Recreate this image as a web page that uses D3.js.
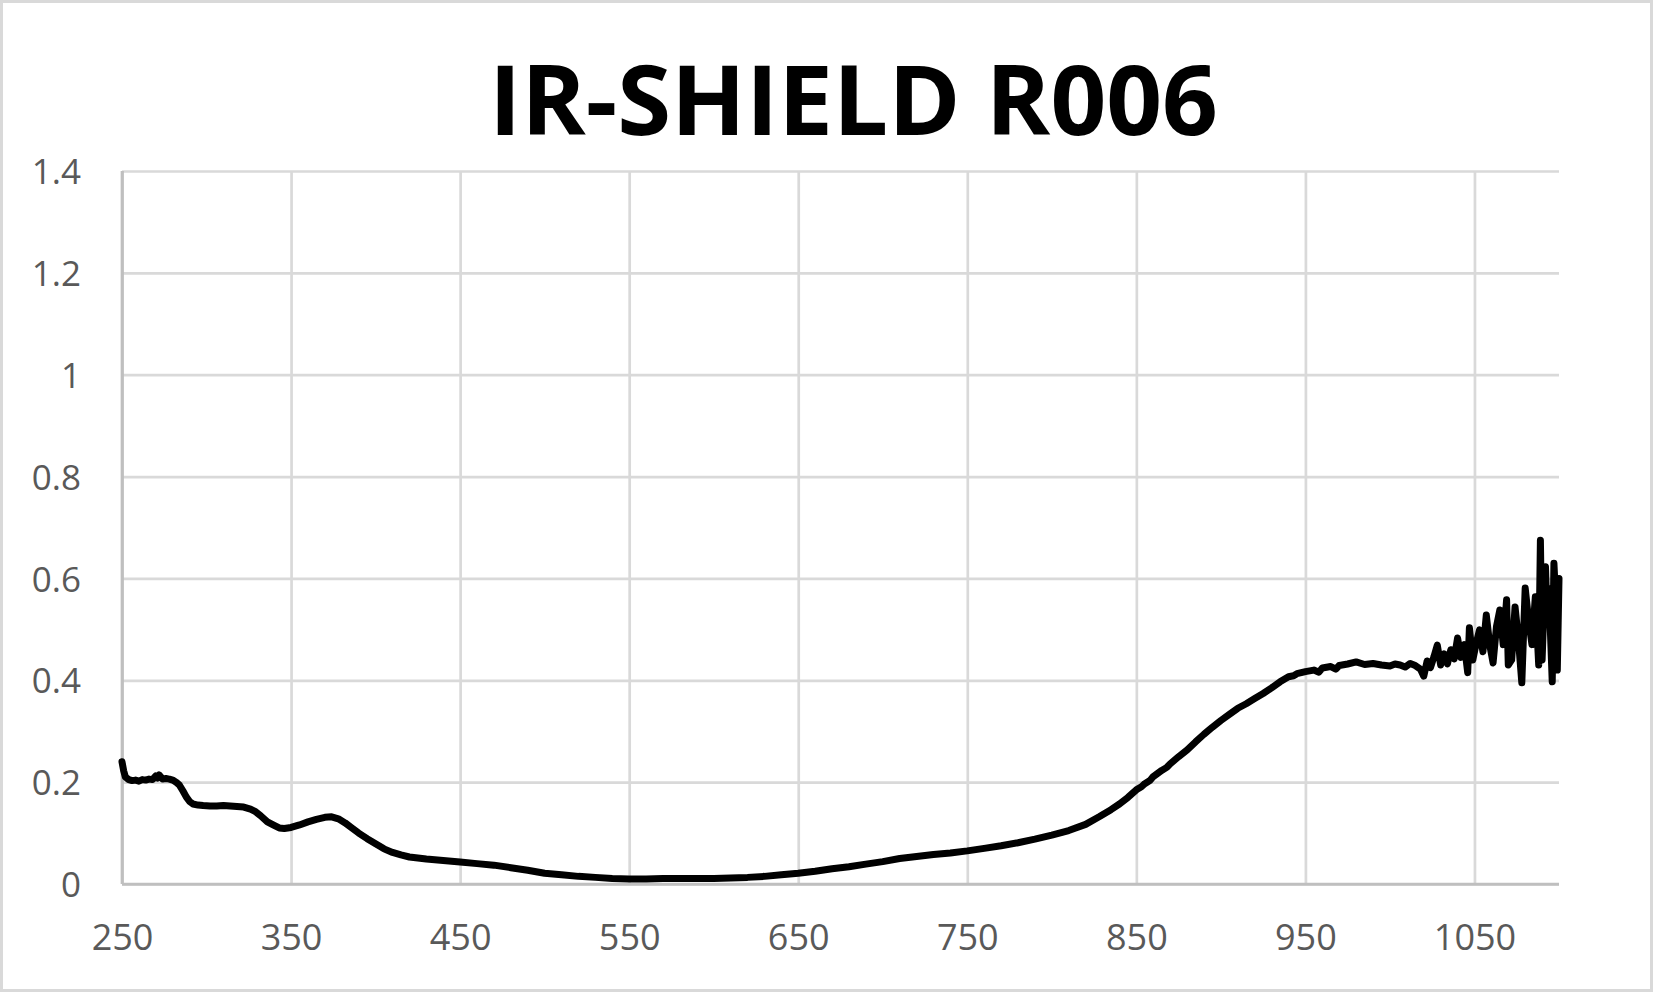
<!DOCTYPE html>
<html>
<head>
<meta charset="utf-8">
<script src="https://cdn.jsdelivr.net/npm/d3@7"></script>
<style>
  html, body { margin: 0; padding: 0; background: #ffffff; }
  svg { display: block; }
</style>
</head>
<body>
<svg id="chart" width="1653" height="992"></svg>
<script>
// ---- data ----
const title = "IR-SHIELD R006";
const xTicks = [250, 350, 450, 550, 650, 750, 850, 950, 1050];
const yTicks = [0, 0.2, 0.4, 0.6, 0.8, 1, 1.2, 1.4];
const wavelength = [
  250, 251, 252, 254, 256, 258, 260, 262, 264, 266, 268, 270, 271, 272, 274, 276, 278, 280, 282, 284,
  286, 288, 290, 292, 295, 298, 302, 306, 310, 314, 318, 322, 326, 329, 332, 336, 340, 343, 346, 350,
  355, 360, 365, 370, 374, 378, 382, 386, 390, 395, 400, 405, 410, 415, 420, 425, 430, 440, 450, 460,
  470, 480, 490, 500, 510, 520, 530, 540, 550, 560, 570, 580, 590, 600, 610, 620, 630, 640, 650, 660,
  670, 680, 690, 700, 710, 720, 730, 740, 750, 760, 770, 780, 790, 800, 810, 820, 828, 835, 840, 845,
  850, 853, 855, 858, 860, 865, 868, 870, 875, 880, 885, 890, 895, 900, 905, 910, 915, 920, 925, 930,
  935, 940, 943, 945, 950, 955, 958, 960, 965, 968, 970, 975, 980, 985, 990, 995, 1000, 1003, 1006, 1009,
  1012, 1015, 1018, 1020, 1022, 1024, 1026, 1028, 1030, 1032, 1034, 1036, 1038, 1040, 1042, 1044, 1046, 1047, 1049, 1051,
  1053, 1055, 1057, 1059, 1061, 1063, 1065, 1067, 1069, 1070, 1072, 1074, 1076, 1078, 1080, 1082, 1084, 1086, 1088, 1089,
  1090, 1092, 1093, 1094, 1096, 1097, 1098, 1099, 1100
];
const absorbance = [
  0.240, 0.222, 0.210, 0.205, 0.203, 0.204, 0.202, 0.205, 0.204, 0.206, 0.205, 0.212, 0.208, 0.214, 0.206, 0.207, 0.206, 0.204, 0.200, 0.194,
  0.183, 0.171, 0.162, 0.157, 0.155, 0.154, 0.153, 0.153, 0.154, 0.153, 0.152, 0.151, 0.147, 0.142, 0.134, 0.122, 0.115, 0.110, 0.109, 0.111,
  0.116, 0.122, 0.127, 0.131, 0.132, 0.128, 0.120, 0.110, 0.100, 0.089, 0.079, 0.069, 0.062, 0.057, 0.053, 0.051, 0.049, 0.046, 0.043, 0.040,
  0.037, 0.032, 0.027, 0.021, 0.018, 0.015, 0.013, 0.011, 0.010, 0.010, 0.011, 0.011, 0.011, 0.011, 0.012, 0.013, 0.015, 0.018, 0.021, 0.025,
  0.030, 0.034, 0.039, 0.044, 0.050, 0.054, 0.058, 0.061, 0.065, 0.070, 0.075, 0.081, 0.088, 0.096, 0.105, 0.117, 0.132, 0.146, 0.157, 0.170,
  0.185, 0.191, 0.197, 0.203, 0.211, 0.223, 0.229, 0.236, 0.250, 0.263, 0.279, 0.294, 0.308, 0.321, 0.333, 0.345, 0.354, 0.364, 0.374, 0.385,
  0.397, 0.407, 0.409, 0.413, 0.417, 0.420, 0.416, 0.424, 0.427, 0.422, 0.429, 0.432, 0.436, 0.431, 0.433, 0.430, 0.428, 0.432, 0.430, 0.426,
  0.433, 0.429, 0.422, 0.408, 0.438, 0.425, 0.446, 0.469, 0.430, 0.452, 0.432, 0.460, 0.442, 0.483, 0.445, 0.470, 0.415, 0.503, 0.440, 0.472,
  0.499, 0.456, 0.528, 0.470, 0.434, 0.505, 0.538, 0.470, 0.558, 0.430, 0.440, 0.544, 0.480, 0.395, 0.581, 0.519, 0.470, 0.564, 0.430, 0.675,
  0.440, 0.623, 0.520, 0.580, 0.397, 0.630, 0.560, 0.420, 0.600
];

// ---- layout ----
const W = 1653, H = 992;
const plot = { left: 122, top: 171, right: 1559, bottom: 884 };

const svg = d3.select("#chart");

// outer border
svg.append("rect")
  .attr("x", 1.5).attr("y", 1.5)
  .attr("width", W - 3).attr("height", H - 3)
  .attr("fill", "#ffffff")
  .attr("stroke", "#d9d9d9")
  .attr("stroke-width", 3);

const x = d3.scaleLinear().domain([250, 1100]).range([plot.left, plot.right]);
const y = d3.scaleLinear().domain([0, 1.4]).range([plot.bottom, plot.top]);

// horizontal gridlines + y labels
const yAxis = svg.append("g")
  .attr("transform", `translate(${plot.left},0)`)
  .call(d3.axisLeft(y).tickValues(yTicks)
    .tickSize(-(plot.right - plot.left))
    .tickPadding(41)
    .tickFormat(d => d3.format("~g")(d)));
yAxis.select(".domain").remove();
yAxis.selectAll(".tick line")
  .attr("stroke", d => d === 0 ? "#bfbfbf" : "#d9d9d9")
  .attr("stroke-width", 2.7);
yAxis.selectAll(".tick text")
  .attr("fill", "#595959")
  .attr("font-family", "'Open Sans', 'Noto Sans', sans-serif")
  .attr("font-size", 35)
  .attr("dy", "0.36em");

// vertical gridlines + x labels
const xAxis = svg.append("g")
  .attr("transform", `translate(0,${plot.bottom})`)
  .call(d3.axisBottom(x).tickValues(xTicks)
    .tickSize(-(plot.bottom - plot.top))
    .tickPadding(40)
    .tickFormat(d3.format("d")));
xAxis.select(".domain").remove();
xAxis.selectAll(".tick line")
  .attr("stroke", d => d === 250 ? "#bfbfbf" : "#d9d9d9")
  .attr("stroke-width", 2.7);
xAxis.selectAll(".tick text")
  .attr("fill", "#595959")
  .attr("font-family", "'Open Sans', 'Noto Sans', sans-serif")
  .attr("font-size", 36)
  .attr("dy", "0.71em");

// axis lines (x=250 and y=0) drawn over the gridlines
svg.append("line")
  .attr("x1", x(250)).attr("x2", x(1100))
  .attr("y1", y(0)).attr("y2", y(0))
  .attr("stroke", "#bfbfbf").attr("stroke-width", 2.7);
svg.append("line")
  .attr("x1", x(250)).attr("x2", x(250))
  .attr("y1", y(0)).attr("y2", y(1.4))
  .attr("stroke", "#bfbfbf").attr("stroke-width", 2.7);

// spectrum line
const pts = wavelength.map((w, i) => [w, absorbance[i]]);
svg.append("path")
  .datum(pts)
  .attr("fill", "none")
  .attr("stroke", "#000000")
  .attr("stroke-width", 7)
  .attr("stroke-linejoin", "round")
  .attr("stroke-linecap", "round")
  .attr("d", d3.line().x(d => x(d[0])).y(d => y(d[1])));

// title
svg.append("text")
  .attr("x", 853.5)
  .attr("y", 135)
  .attr("text-anchor", "middle")
  .attr("font-family", "'Open Sans', 'Noto Sans', sans-serif")
  .attr("font-weight", "bold")
  .attr("font-size", 97)
  .attr("fill", "#000000")
  .attr("textLength", 729)
  .attr("lengthAdjust", "spacingAndGlyphs")
  .text(title);
</script>
</body>
</html>
